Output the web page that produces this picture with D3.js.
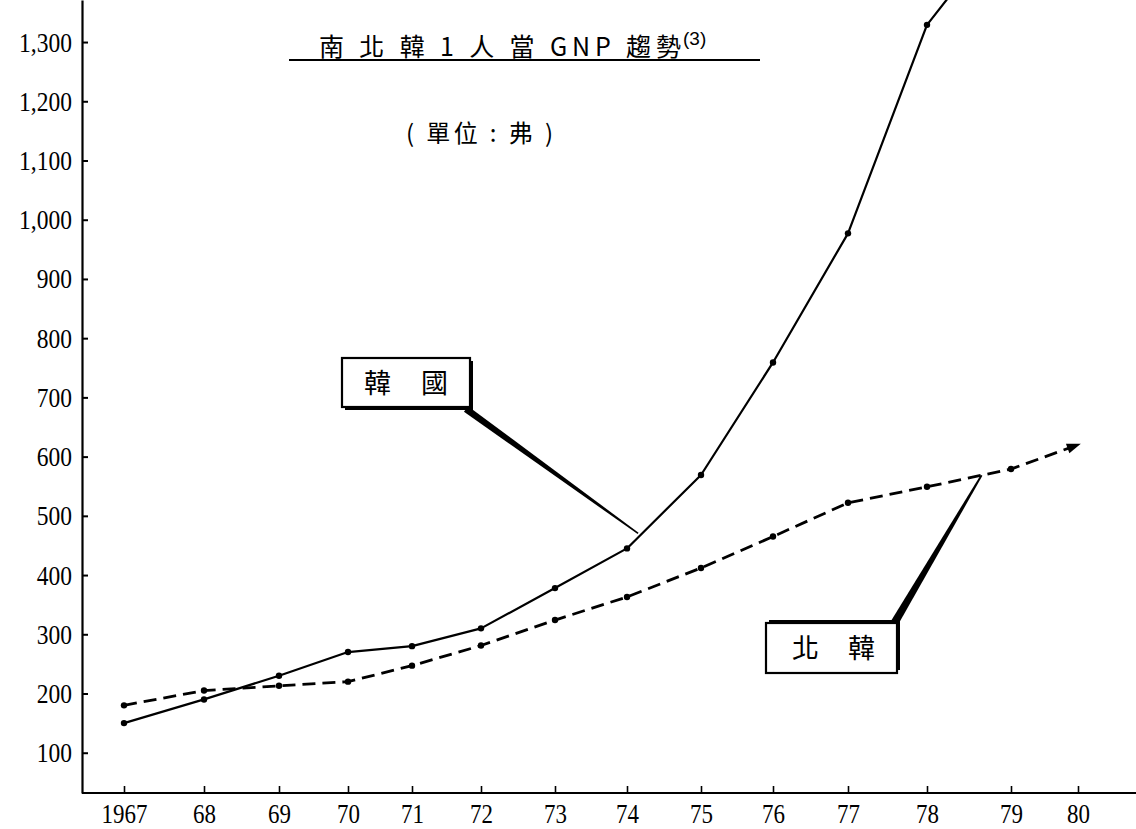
<!DOCTYPE html>
<html>
<head>
<meta charset="utf-8">
<script src="https://cdn.jsdelivr.net/npm/d3@7"></script>
<style>
  html, body { margin: 0; padding: 0; background: #fff; }
  svg { display: block; }
</style>
</head>
<body>
<svg id="chart" width="1136" height="829"></svg>
<script>
// ---------------- DATA ----------------
const years = [1967, 1968, 1969, 1970, 1971, 1972, 1973, 1974, 1975, 1976, 1977, 1978, 1979, 1980];
const xTickLabels = ["1967", "68", "69", "70", "71", "72", "73", "74", "75", "76", "77", "78", "79", "80"];
const southYears = [1967, 1968, 1969, 1970, 1971, 1972, 1973, 1974, 1975, 1976, 1977, 1978, 1979];
const southKorea = [150, 190, 230, 270, 280, 310, 378, 445, 569, 759, 977, 1329, 1510];
const northKorea = [180, 205, 213, 220, 247, 281, 324, 363, 412, 465, 522, 549, 579, 620];
const yTicks = [100, 200, 300, 400, 500, 600, 700, 800, 900, 1000, 1100, 1200, 1300];
const titleText = "南 北 韓 1 人 當 GNP 趨勢";
const titleNote = "(3)";
const unitText = "( 單位 : 弗 )";
const southLabel = "韓 國";
const northLabel = "北 韓";
// where the label leaders touch their series (year position)
const southLeaderYear = 1974.15;
const northLeaderYear = 1978.65;

// ---------------- LAYOUT ----------------
const W = 1136, H = 829;
const axisX = 82, axisY = 793;
// hand-drawn, slightly uneven year spacing of the original
const xStops = [124, 204, 279, 348, 412, 481, 555, 627, 701, 773, 848, 927, 1011, 1078];
const serif = "'Liberation Serif', 'DejaVu Serif', serif";
const cjk = "'Noto Sans CJK TC', 'Noto Sans CJK KR', sans-serif";

const svg = d3.select("#chart");

const x = d3.scaleLinear().domain(years).range(xStops);
const y = d3.scaleLinear().domain([32, 1371]).range([axisY, 0]);

// ---------------- AXES ----------------
const yAxis = d3.axisLeft(y)
  .tickValues(yTicks)
  .tickFormat(d3.format(","))
  .tickSizeInner(-6)
  .tickSizeOuter(0)
  .tickPadding(12);

const gy = svg.append("g").attr("transform", `translate(${axisX},0)`).call(yAxis);
gy.select(".domain").attr("stroke", "#000").attr("stroke-width", 2.2);
gy.selectAll(".tick line").attr("stroke", "#000").attr("stroke-width", 2);
gy.selectAll(".tick text")
  .attr("fill", "#000")
  .style("font-family", serif)
  .style("font-size", "28px")
  .attr("transform", "scale(0.84,1)");

const xAxis = d3.axisBottom(x)
  .tickValues(years)
  .tickFormat((d, i) => xTickLabels[i])
  .tickSizeInner(-7)
  .tickSizeOuter(0)
  .tickPadding(10);

const gx = svg.append("g").attr("transform", `translate(0,${axisY})`).call(xAxis);
gx.select(".domain").remove();
gx.selectAll(".tick line").attr("stroke", "#000").attr("stroke-width", 1.6);
gx.selectAll(".tick text")
  .attr("fill", "#000")
  .style("font-family", serif)
  .style("font-size", "28px")
  .attr("transform", "scale(0.82,1)");

svg.append("line")
  .attr("x1", axisX).attr("x2", W)
  .attr("y1", axisY).attr("y2", axisY)
  .attr("stroke", "#000").attr("stroke-width", 2.2);

// ---------------- SERIES ----------------
const south = southYears.map((yr, i) => ({ year: yr, value: southKorea[i] }));
const north = years.map((yr, i) => ({ year: yr, value: northKorea[i] }));

const line = d3.line().x(d => x(d.year)).y(d => y(d.value));

svg.append("path")
  .datum(south)
  .attr("d", line)
  .attr("fill", "none")
  .attr("stroke", "#000")
  .attr("stroke-width", 2.2)
  .attr("stroke-linejoin", "round");

svg.append("path")
  .datum(north)
  .attr("d", line)
  .attr("fill", "none")
  .attr("stroke", "#000")
  .attr("stroke-width", 2.8)
  .attr("stroke-dasharray", "13,7");

svg.selectAll(".sdot")
  .data(south.filter(d => y(d.value) > 0))
  .enter().append("circle")
  .attr("cx", d => x(d.year)).attr("cy", d => y(d.value))
  .attr("r", 3.2).attr("fill", "#000");

svg.selectAll(".ndot")
  .data(north.slice(0, -1))
  .enter().append("circle")
  .attr("cx", d => x(d.year)).attr("cy", d => y(d.value))
  .attr("r", 3.2).attr("fill", "#000");

// arrow-like end of the North Korea series
(function () {
  const a = north[north.length - 2], b = north[north.length - 1];
  const x1 = x(a.year), y1 = y(a.value), x2 = x(b.year), y2 = y(b.value);
  const ang = Math.atan2(y2 - y1, x2 - x1);
  const L = 11, Wd = 5;
  const p = [
    [x2 + 3 * Math.cos(ang), y2 + 3 * Math.sin(ang)],
    [x2 - L * Math.cos(ang) + Wd * Math.sin(ang), y2 - L * Math.sin(ang) - Wd * Math.cos(ang)],
    [x2 - L * Math.cos(ang) - Wd * Math.sin(ang), y2 - L * Math.sin(ang) + Wd * Math.cos(ang)]
  ];
  svg.append("polygon").attr("points", p.map(q => q.join(",")).join(" ")).attr("fill", "#000");
})();

// ---------------- TITLE ----------------
svg.append("text")
  .attr("x", 319).attr("y", 56)
  .attr("textLength", 362).attr("lengthAdjust", "spacing")
  .style("font-family", cjk).style("font-size", "25px")
  .attr("fill", "#000")
  .text(titleText);

svg.append("text")
  .attr("x", 683).attr("y", 45)
  .style("font-family", "'Liberation Sans', sans-serif").style("font-size", "19px")
  .attr("fill", "#000")
  .text(titleNote);

svg.append("line")
  .attr("x1", 289).attr("x2", 760)
  .attr("y1", 60).attr("y2", 60)
  .attr("stroke", "#000").attr("stroke-width", 2);

svg.append("text")
  .attr("x", 406).attr("y", 142)
  .attr("textLength", 147).attr("lengthAdjust", "spacing")
  .style("font-family", cjk).style("font-size", "24px")
  .attr("fill", "#000")
  .text(unitText);

// ---------------- CALLOUT LABELS ----------------
function interp(series, yr) {
  const i = d3.bisector(d => d.year).right(series, yr) - 1;
  const a = series[i], b = series[i + 1];
  const t = (yr - a.year) / (b.year - a.year);
  return { x: x(yr), y: y(a.value + t * (b.value - a.value)) };
}

function leader(from, to, w0, w1) {
  const dx = to.x - from.x, dy = to.y - from.y;
  const len = Math.hypot(dx, dy);
  const nx = -dy / len, ny = dx / len;
  const pts = [
    [from.x + nx * w0 / 2, from.y + ny * w0 / 2],
    [to.x + nx * w1 / 2, to.y + ny * w1 / 2],
    [to.x - nx * w1 / 2, to.y - ny * w1 / 2],
    [from.x - nx * w0 / 2, from.y - ny * w0 / 2]
  ];
  svg.append("polygon").attr("points", pts.map(p => p.join(",")).join(" ")).attr("fill", "#000");
}

function box(bx, by, bw, bh, sdx, sdy, label, tx, tlen) {
  svg.append("rect")
    .attr("x", bx + sdx).attr("y", by + sdy).attr("width", bw).attr("height", bh)
    .attr("fill", "#000");
  svg.append("rect")
    .attr("x", bx).attr("y", by).attr("width", bw).attr("height", bh)
    .attr("fill", "#fff").attr("stroke", "#000").attr("stroke-width", 2.2);
  svg.append("text")
    .attr("x", tx).attr("y", by + bh / 2 + 10)
    .attr("textLength", tlen).attr("lengthAdjust", "spacing")
    .style("font-family", cjk).style("font-size", "27px")
    .attr("fill", "#000")
    .text(label);
}

// South Korea callout
const sAnchor = interp(south, southLeaderYear);
leader({ x: 466, y: 409 }, { x: sAnchor.x, y: sAnchor.y - 4 }, 7, 1.6);
box(342, 358, 128, 49, 3, 3, southLabel, 364, 84);

// North Korea callout
const nAnchor = interp(north, northLeaderYear);
leader({ x: 895, y: 622 }, { x: nAnchor.x, y: nAnchor.y }, 8, 1.8);
box(766, 623, 131, 50, 3, -3, northLabel, 792, 83);
</script>
</body>
</html>
